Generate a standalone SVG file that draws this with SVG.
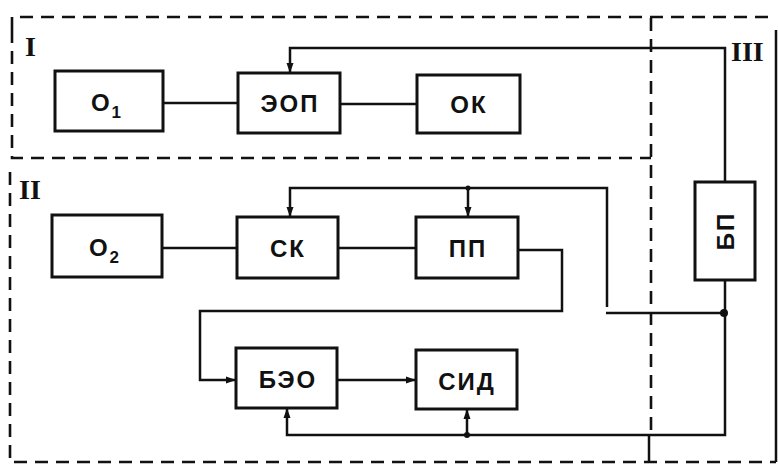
<svg xmlns="http://www.w3.org/2000/svg" width="778" height="464" viewBox="0 0 778 464">
<style>
.bg{fill:#ffffff}
.box{fill:#ffffff;stroke:#111;stroke-width:3}
.ln{fill:none;stroke:#111;stroke-width:2.5}
.dash{fill:none;stroke:#111;stroke-width:2.6;stroke-dasharray:13 8}
.t{font-family:"Liberation Sans","DejaVu Sans",sans-serif;font-size:24px;font-weight:bold;fill:#111;text-anchor:middle;letter-spacing:2px}
.r{font-family:"Liberation Serif","DejaVu Serif",serif;font-size:28px;font-weight:bold;fill:#111}
.dot{fill:#111}
</style>
<defs>
<marker id="arw" viewBox="0 0 10 10" refX="10" refY="5" markerWidth="10" markerHeight="10" orient="auto" markerUnits="userSpaceOnUse">
<path d="M0,1.5 L10,5 L0,8.5 z" fill="#111"/>
</marker>
</defs>
<rect class="bg" x="0" y="0" width="778" height="464"/>
<g id="regions">
<path class="dash" d="M12,30 V17 H776"/>
<path class="dash" d="M12,30 V158 H651"/>
<path class="dash" d="M10,172 V462 H776"/>
<path class="dash" d="M651,18 V430"/>
<path class="ln" d="M649,435 V462"/>
<path class="ln" stroke-width="1.5" d="M776,30 V462"/>
<text class="r" x="25" y="56">I</text>
<text class="r" x="19" y="199">II</text>
<text class="r" x="731" y="61">III</text>
</g>
<g id="connectors">
<path class="ln" d="M163,103 H238"/>
<path class="ln" d="M340,104 H417"/>
<path class="ln" d="M725,182 V48 H290 V73" marker-end="url(#arw)"/>
<path class="ln" d="M162,248 H237"/>
<path class="ln" d="M338,248 H416"/>
<path class="ln" d="M607,307 V188 H290 V217" marker-end="url(#arw)"/>
<path class="ln" d="M468,188 V217" marker-end="url(#arw)"/>
<path class="ln" d="M606,313 H724"/>
<path class="ln" d="M518,250 H562 V311 H200 V380 H236" marker-end="url(#arw)"/>
<path class="ln" d="M337,380 H416" marker-end="url(#arw)"/>
<path class="ln" d="M725,280 V435 H287 V408" marker-end="url(#arw)"/>
<path class="ln" d="M467,435 V409" marker-end="url(#arw)"/>
<circle class="dot" cx="724" cy="313" r="4"/>
<circle class="dot" cx="468" cy="188" r="2.5"/>
<circle class="dot" cx="467" cy="435" r="3"/>
</g>
<g id="O1"><rect class="box" x="55" y="71" width="108" height="60"/><text class="t" x="107" y="111">О<tspan font-size="17" dy="7">1</tspan></text></g>
<g id="EOP"><rect class="box" x="238" y="73" width="102" height="60"/><text class="t" x="290" y="112">ЭОП</text></g>
<g id="OK"><rect class="box" x="417" y="75" width="103" height="58"/><text class="t" x="469" y="113">ОК</text></g>
<g id="O2"><rect class="box" x="52" y="215" width="110" height="62"/><text class="t" x="105" y="256">О<tspan font-size="17" dy="7">2</tspan></text></g>
<g id="SK"><rect class="box" x="237" y="217" width="101" height="61"/><text class="t" x="288" y="257">СК</text></g>
<g id="PP"><rect class="box" x="416" y="217" width="102" height="61"/><text class="t" x="468" y="257">ПП</text></g>
<g id="BEO"><rect class="box" x="236" y="348" width="101" height="60"/><text class="t" x="288" y="388">БЭО</text></g>
<g id="SID"><rect class="box" x="416" y="350" width="101" height="59"/><text class="t" x="467" y="390">СИД</text></g>
<g id="BP"><rect class="box" x="695" y="182" width="60" height="98"/><text class="t" x="0" y="0" transform="translate(734,231) rotate(-90)">БП</text></g>
</svg>
